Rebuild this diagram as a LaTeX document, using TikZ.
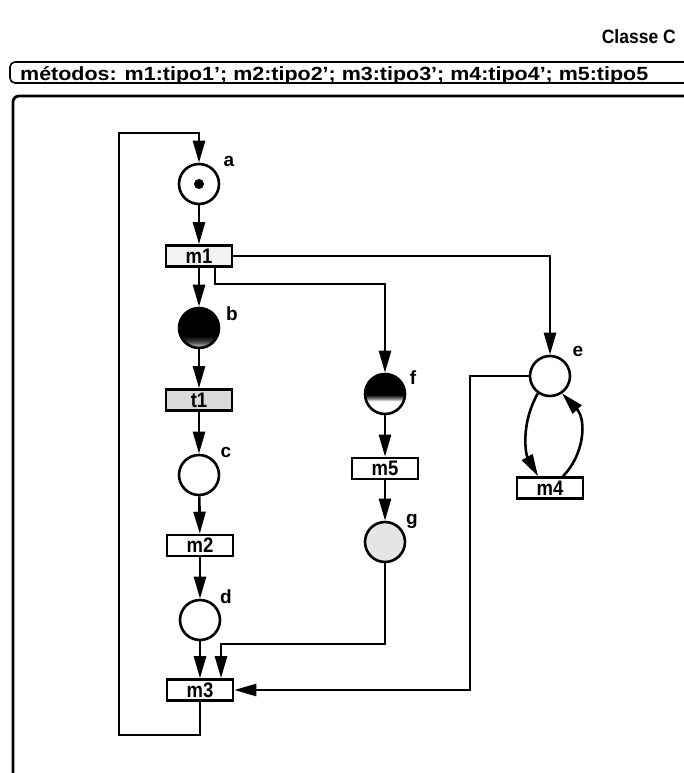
\documentclass[tikz,border=0pt]{standalone}
\usepackage{fontspec}
\setmainfont{Liberation Sans}
\usetikzlibrary{arrows.meta}
\pgfdeclareverticalshading{bshade}{100bp}{color(0bp)=(white); color(25bp)=(white); color(27bp)=(black!30); color(33bp)=(black!75); color(40bp)=(black); color(100bp)=(black)}
\pgfdeclareverticalshading{fshade}{100bp}{color(0bp)=(white); color(41bp)=(white); color(44bp)=(black!45); color(49bp)=(black); color(100bp)=(black)}
\newcommand\trlab[1]{\scalebox{0.88}[1]{\fontsize{21}{21}\selectfont\bfseries #1}}
\newcommand\plab[1]{{\fontsize{19}{19}\selectfont\bfseries #1}}
\tikzset{
  place/.style={circle, draw, line width=2.6pt, minimum size=40pt, inner sep=0pt, fill=white},
  trans/.style={rectangle, draw, line width=2.6pt, minimum width=66pt, minimum height=21pt, inner sep=0pt, fill=white},
  arc/.style={line width=2.6pt, -{Triangle[length=22pt,width=12pt]}},
  lab/.style={inner sep=0pt},
  frameline/.style={line width=2.8pt, rounded corners=6pt}
}
\begin{document}
\begin{tikzpicture}[x=1pt,y=-1pt]
\useasboundingbox (0,0) rectangle (684,773);
\clip (0,0) rectangle (684,773);
% title and header
\node[anchor=base east, inner sep=0pt] (cls) at (676,44) {\resizebox{74pt}{14pt}{\bfseries Classe C}};
\draw[line width=1.6pt, rounded corners=5pt] (700,62) -- (10,62) -- (10,83) -- (700,83);
\node[anchor=base west, inner sep=0pt] (hdr) at (20,81) {\resizebox{628pt}{14pt}{\bfseries métodos: m1:tipo1'; m2:tipo2'; m3:tipo3'; m4:tipo4'; m5:tipo5}};
% frame
\draw[frameline] (13,96) rectangle (720,820);
% places and transitions
\node[place] (a) at (199,184) {};
\fill (a.center) circle (5pt);
\node[trans, fill=gray!10] (m1) at (199,256) {\trlab{m1}};
\node[place, shade, shading=bshade] (b) at (199,328) {};
\node[trans, fill=gray!30] (t1) at (199,400) {\trlab{t1}};
\node[place] (c) at (199,475) {};
\node[trans] (m2) at (200,545.5) {\trlab{m2}};
\node[place] (d) at (200,620) {};
\node[trans] (m3) at (200,690) {\trlab{m3}};
\node[place, shade, shading=fshade] (f) at (385,394) {};
\node[trans] (m5) at (385,468.5) {\trlab{m5}};
\node[place, fill=gray!20] (g) at (385,542) {};
\node[place] (e) at (550,376) {};
\node[trans] (m4) at (550,488) {\trlab{m4}};
% labels
\node[lab] (la) at (229,161) {\plab{a}};
\node[lab] (lb) at (232,314) {\plab{b}};
\node[lab] (lc) at (226,452) {\plab{c}};
\node[lab] (ld) at (226,597) {\plab{d}};
\node[lab] (lf) at (413,378) {\plab{f}};
\node[lab] (lg) at (412,521) {\plab{g}};
\node[lab] (le) at (578,351) {\plab{e}};
% coordinates
\coordinate (m1f) at (215,284);
\coordinate (gm) at (221,644);
\coordinate (ec) at (470,690);
\coordinate (lpb) at (119,735);
\coordinate (lpt) at (119,133);
% arcs
\draw[arc] (a) -- (m1);
\draw[arc] (m1) -- (b);
\draw[arc] (b) -- (t1);
\draw[arc] (t1) -- (c);
\draw[arc] (c) -- (m2);
\draw[arc] (m2) -- (d);
\draw[arc] (d) -- (m3);
\draw[arc] (m1.east) -| (e);
\draw[arc] (m1.south -| m1f) -- (m1f) -| (f);
\draw[arc] (f) -- (m5);
\draw[arc] (m5) -- (g);
\draw[arc] (g) |- (gm) -- (gm |- m3.north);
\draw[arc] (e.west) -| (ec) -- (m3.east);
\draw[arc] (m3.south) |- (lpb) -- (lpt) -| (a);
\draw[arc] (e.235) .. controls (520,425) and (526,455) .. ([xshift=-12pt]m4.north);
\draw[arc] ([xshift=13pt]m4.north) .. controls (584,455) and (587,420) .. (e.-55);
\end{tikzpicture}
\end{document}
